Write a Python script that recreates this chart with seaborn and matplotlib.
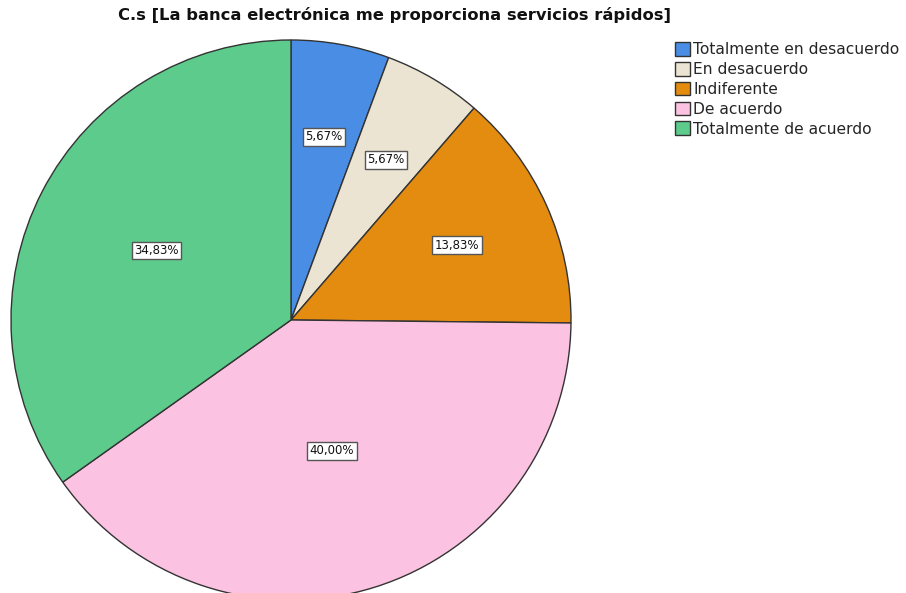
import matplotlib
matplotlib.use("Agg")
import matplotlib.pyplot as plt
import seaborn as sns
import numpy as np

# Survey answers and their shares (%)
categories = ["Totalmente en desacuerdo", "En desacuerdo", "Indiferente",
              "De acuerdo", "Totalmente de acuerdo"]
percentages = [5.67, 5.67, 13.83, 40.00, 34.83]
title = "C.s [La banca electrónica me proporciona servicios rápidos]"

colors = ["#4a8de4", "#ece4d2", "#e38c10", "#fcc2e2", "#5ccb8b"]
label_radius = [0.665, 0.665, 0.65, 0.49, 0.54]

sns.set_style("white")
plt.rcParams["font.family"] = ["DejaVu Sans"]

W, H = 906, 593
fig = plt.figure(figsize=(W / 100, H / 100), dpi=100)

# pie occupies a 560 px square centred at (291, 320)
cx, cy, r = 291, 320, 280
ax = fig.add_axes([(cx - r) / W, (H - cy - r) / H, 2 * r / W, 2 * r / H])

wedges, _, autotexts = ax.pie(
    percentages, colors=colors, startangle=90, counterclock=False, radius=1,
    wedgeprops=dict(edgecolor="#333333", linewidth=1.0),
    autopct=lambda p: f"{p:.2f}%".replace(".", ","), pctdistance=0.6,
    textprops=dict(fontsize=8.5, color="#111111"))
ax.set_xlim(-1, 1)
ax.set_ylim(-1, 1)
ax.set_aspect("equal")
ax.axis("off")

for w, t, rr in zip(wedges, autotexts, label_radius):
    mid = np.deg2rad((w.theta1 + w.theta2) / 2)
    t.set_position((rr * np.cos(mid), rr * np.sin(mid)))
    t.set_bbox(dict(boxstyle="square,pad=0.2", facecolor="white",
                    edgecolor="#555555", linewidth=1.0))

fig.text(394 / W, 1 - 15 / H, title, ha="center", va="center",
         fontsize=11.8, fontweight="bold", color="#111111")

leg = fig.legend(wedges, categories, loc="upper left",
                 bbox_to_anchor=(669 / W, 1 - 36 / H), frameon=False,
                 fontsize=11.2, handlelength=0.97, handleheight=0.97,
                 handletextpad=0.2, labelspacing=0.3, borderaxespad=0)
for h in leg.legend_handles:
    h.set_edgecolor("#333333")
    h.set_linewidth(1.0)

fig.savefig("out.png", dpi=100)
